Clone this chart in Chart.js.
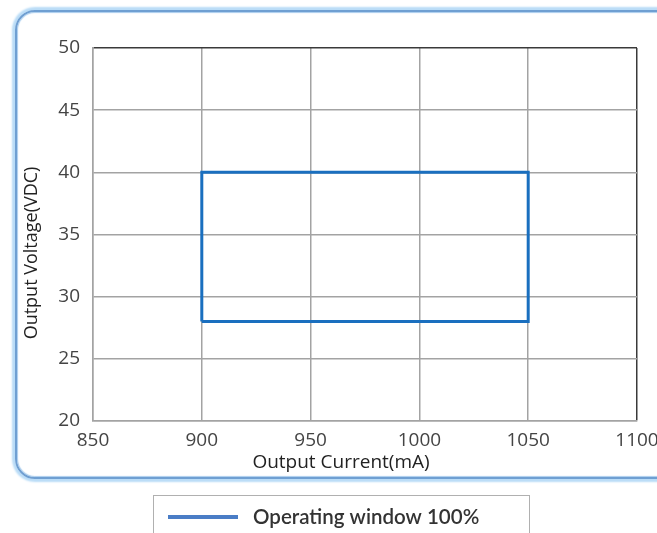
<!DOCTYPE html>
<html>
<head>
<meta charset="utf-8">
<script src="https://cdn.jsdelivr.net/npm/chart.js@4.4.1/dist/chart.umd.min.js"></script>
<style>
  html, body { margin: 0; padding: 0; background: #fff; width: 657px; height: 533px; overflow: hidden; }
  #frame { position: absolute; left: 15px; top: 10px; width: 700px; height: 465px;
           border: 2px solid #6f9fd2; border-radius: 20px;
           box-shadow: 0 0 2px 3px #b9dcf7, inset 0 0 1px 1px #a9cdee; }
  #c { position: absolute; left: 0; top: 0; }
</style>
</head>
<body>
<div id="frame"></div>
<canvas id="c" width="657" height="533"></canvas>
<script>
// ---- data ----
const xTicks = [850, 900, 950, 1000, 1050, 1100];
const yTicks = [20, 25, 30, 35, 40, 45, 50];
const windowCurrent = [900, 900, 1050, 1050, 900];   // mA
const windowVoltage = [28, 40, 40, 28, 28];          // VDC
const seriesLabel = 'Operating window 100%';
const xTitle = 'Output Current(mA)';
const yTitle = 'Output Voltage(VDC)';

const points = windowCurrent.map((x, i) => ({ x: x, y: windowVoltage[i] }));

const tickFont = { family: 'Open Sans', size: 19 };
const gridColor = '#a3a3a3';
const edgeColor = '#3a3a3a';

const framePlugin = {
  id: 'extras',
  afterDraw(chart) {
    const ctx = chart.ctx;
    // axis titles
    ctx.save();
    ctx.fillStyle = '#222';
    ctx.textAlign = 'center';
    ctx.textBaseline = 'middle';
    ctx.font = '19px "Open Sans"';
    ctx.fillText(chart.options.scales.x.title.text, 341, 463);
    ctx.translate(32, 253);
    ctx.rotate(-Math.PI / 2);
    ctx.font = '18px "Open Sans"';
    ctx.fillText(chart.options.scales.y.title.text, 0, 0);
    ctx.restore();
    // legend box
    const ds = chart.data.datasets[0];
    ctx.save();
    ctx.strokeStyle = '#b0b0b0';
    ctx.lineWidth = 1;
    ctx.strokeRect(153.5, 495.5, 376, 60);
    ctx.strokeStyle = ds.legendColor;
    ctx.lineWidth = 4;
    ctx.beginPath();
    ctx.moveTo(168, 517);
    ctx.lineTo(238, 517);
    ctx.stroke();
    ctx.fillStyle = '#333';
    ctx.font = '600 20.5px Lato';
    ctx.textAlign = 'left';
    ctx.textBaseline = 'middle';
    ctx.fillText(ds.label, 253, 517);
    ctx.restore();
  }
};

new Chart(document.getElementById('c'), {
  type: 'line',
  data: {
    datasets: [{
      label: seriesLabel,
      data: points,
      borderColor: '#1a6fbf',
      legendColor: '#4a7dc6',
      borderWidth: 3,
      pointRadius: 0,
      fill: false,
      tension: 0
    }]
  },
  options: {
    responsive: false,
    animation: false,
    devicePixelRatio: 1,
    layout: { padding: { left: 0, top: 48, right: 20, bottom: 60 } },
    plugins: { legend: { display: false }, tooltip: { enabled: false } },
    scales: {
      x: {
        type: 'linear',
        min: xTicks[0], max: xTicks[xTicks.length - 1],
        afterBuildTicks(s) { s.ticks = xTicks.map(v => ({ value: v })); },
        afterFit(s) { s.height = 52; s.paddingLeft = 0; s.paddingRight = 0; },
        ticks: { font: tickFont, color: '#444', padding: 8, maxRotation: 0, autoSkip: false,
                 callback: v => String(v) },
        grid: { drawTicks: false, lineWidth: 1.5,
                color: c => (c.tick && c.tick.value === xTicks[xTicks.length - 1]) ? edgeColor : gridColor },
        border: { color: gridColor, width: 1.5 },
        title: { display: false, text: xTitle }
      },
      y: {
        type: 'linear',
        min: yTicks[0], max: yTicks[yTicks.length - 1],
        afterBuildTicks(s) { s.ticks = yTicks.map(v => ({ value: v })); },
        afterFit(s) { s.width = 93; s.paddingTop = 0; s.paddingBottom = 0; },
        ticks: { font: tickFont, color: '#444', padding: 13, autoSkip: false,
                 callback: v => String(v) },
        grid: { drawTicks: false, lineWidth: 1.5,
                color: c => (c.tick && c.tick.value === yTicks[yTicks.length - 1]) ? edgeColor : gridColor },
        border: { color: gridColor, width: 1.5 },
        title: { display: false, text: yTitle }
      }
    }
  },
  plugins: [framePlugin]
});
</script>
</body>
</html>
